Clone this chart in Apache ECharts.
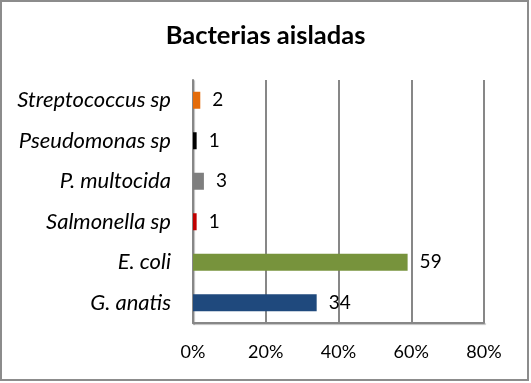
<!DOCTYPE html>
<html>
<head>
<meta charset="utf-8">
<script src="https://cdn.jsdelivr.net/npm/echarts@6/dist/echarts.min.js"></script>
<style>
html,body{margin:0;padding:0;background:#fff;}
#c{width:531px;height:383px;}
</style>
</head>
<body>
<div id="c"></div>
<script>
var titleText = 'Bacterias aisladas';
var categories = ['G. anatis', 'E. coli', 'Salmonella sp', 'P. multocida', 'Pseudomonas sp', 'Streptococcus sp'];
var values = [34, 59, 1, 3, 1, 2];
var barColors = ['#1F497D', '#77933C', '#C00000', '#7F7F7F', '#000000', '#E46C0A'];
var xTicks = [0, 20, 40, 60, 80];

var FONT = 'Lato, "Open Sans", sans-serif';
var chart = echarts.init(document.getElementById('c'), null, {renderer: 'canvas'});
chart.setOption({
  animation: false,
  backgroundColor: '#ffffff',
  title: {
    text: titleText,
    left: 'center',
    top: 18,
    textStyle: {fontFamily: FONT, fontSize: 25.5, fontWeight: 'bold', color: '#000'}
  },
  graphic: [{
    type: 'rect',
    shape: {x: 1, y: 1, width: 527, height: 379},
    style: {fill: 'none', stroke: '#8c8c8c', lineWidth: 2},
    silent: true
  }],
  grid: {left: 193, right: 47, top: 80, bottom: 60, containLabel: false},
  xAxis: {
    type: 'value',
    min: xTicks[0],
    max: xTicks[xTicks.length - 1],
    interval: 20,
    axisLine: {show: true, lineStyle: {color: '#878787', width: 2, shadowColor: 'rgba(0,0,0,0.25)', shadowOffsetX: 1, shadowOffsetY: 1, shadowBlur: 1}},
    axisTick: {show: false},
    splitLine: {show: true, lineStyle: {color: '#878787', width: 2}},
    axisLabel: {formatter: '{value}%', fontFamily: FONT, fontSize: 18, color: '#000', margin: 20}
  },
  yAxis: {
    type: 'category',
    data: categories,
    axisLine: {show: true, lineStyle: {color: '#878787', width: 2, shadowColor: 'rgba(0,0,0,0.25)', shadowOffsetX: 1, shadowOffsetY: 1, shadowBlur: 1}},
    axisTick: {show: false},
    splitLine: {show: false},
    axisLabel: {fontFamily: FONT, fontSize: 22, fontStyle: 'italic', color: '#000', margin: 22}
  },
  series: [{
    type: 'bar',
    barWidth: 17,
    data: values.map(function (v, i) {
      return {value: v, itemStyle: {color: barColors[i]}};
    }),
    label: {
      show: true,
      position: 'right',
      distance: 12,
      formatter: function (p) { return String(p.value); },
      fontFamily: FONT,
      fontSize: 19,
      color: '#000'
    }
  }]
});
</script>
</body>
</html>
